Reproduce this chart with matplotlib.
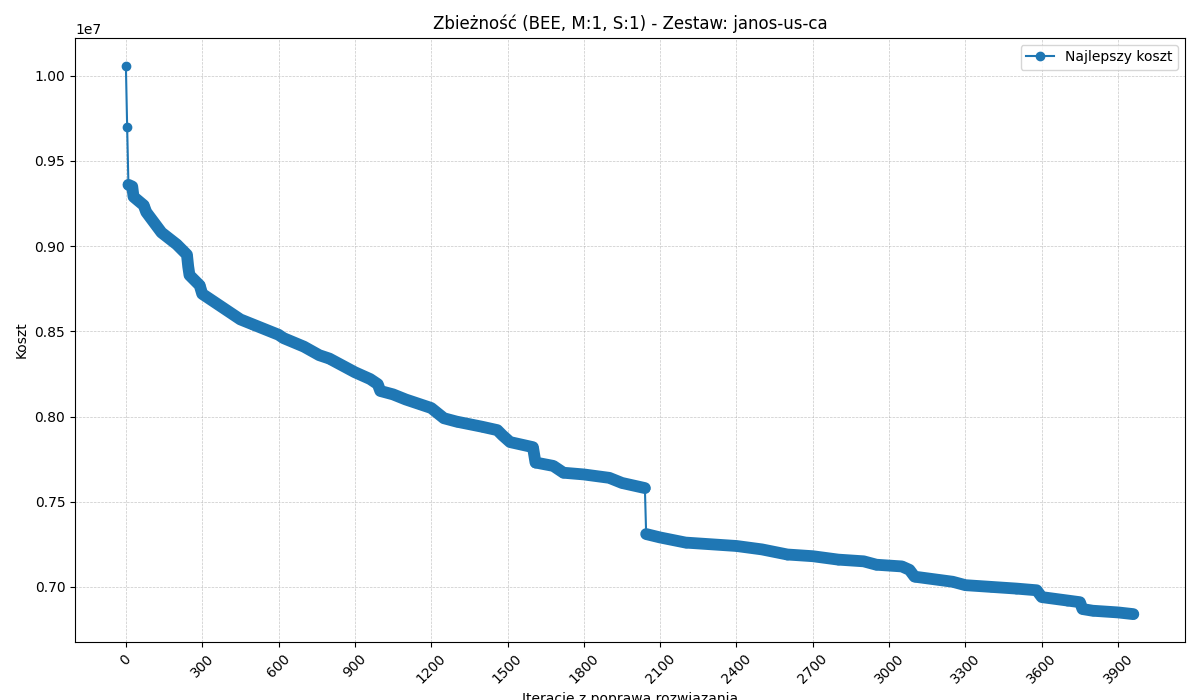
import matplotlib
matplotlib.use("Agg")
import matplotlib.pyplot as plt
import numpy as np

# breakpoints of the best-cost curve (iteration, cost)
iters = [0, 5, 10, 25, 30, 70, 80, 120, 140, 200, 240, 245, 250, 290, 300, 350, 400,
         450, 500, 600, 620, 700, 760, 800, 900, 960, 990, 1000, 1050, 1100, 1200,
         1250, 1300, 1400, 1460, 1480, 1510, 1600, 1610, 1680, 1720, 1800, 1900, 1950,
         2040, 2045, 2100, 2200, 2300, 2400, 2500, 2600, 2700, 2800, 2900, 2950, 3050,
         3080, 3100, 3150, 3250, 3300, 3400, 3500, 3580, 3600, 3700, 3750, 3760, 3800,
         3900, 3960]
cost = [1.006, 0.970, 0.936, 0.935, 0.929, 0.924, 0.920, 0.912, 0.908, 0.901, 0.895,
        0.888, 0.883, 0.877, 0.872, 0.867, 0.862, 0.857, 0.854, 0.848, 0.846, 0.841,
        0.836, 0.834, 0.826, 0.822, 0.819, 0.815, 0.813, 0.810, 0.805, 0.799, 0.797,
        0.794, 0.792, 0.789, 0.785, 0.782, 0.773, 0.771, 0.767, 0.766, 0.764, 0.761,
        0.758, 0.731, 0.729, 0.726, 0.725, 0.724, 0.722, 0.719, 0.718, 0.716, 0.715,
        0.713, 0.712, 0.710, 0.706, 0.705, 0.703, 0.701, 0.700, 0.699, 0.698, 0.694,
        0.692, 0.691, 0.687, 0.686, 0.685, 0.684]

x = np.array(iters, dtype=float)
y = np.array(cost) * 1e7

# thick band mimicking the dense markers, broken at big jumps
bx, by = [], []
for i in range(len(x)):
    if i > 0 and y[i - 1] - y[i] > 0.02e7:
        bx.append(np.nan)
        by.append(np.nan)
    bx.append(x[i])
    by.append(y[i])

fig = plt.figure(figsize=(12, 7), dpi=100)
ax = fig.add_axes([0.0625, 0.083, 0.925, 0.863])
ax.plot(x, y, color='#1f77b4', marker='o', label='Najlepszy koszt')
ax.plot(bx, by, color='#1f77b4', lw=8.5, solid_capstyle='round', solid_joinstyle='round')

ax.set_xlim(-200, 4163)
ax.set_ylim(0.6677e7, 1.0223e7)
ax.set_xticks(np.arange(0, 4000, 300))
plt.setp(ax.get_xticklabels(), rotation=45)
ax.grid(True, linestyle='--', linewidth=0.5, alpha=0.7)
ax.set_title('Zbieżność (BEE, M:1, S:1) - Zestaw: janos-us-ca')
ax.set_xlabel('Iteracje z poprawą rozwiązania')
ax.set_ylabel('Koszt')
ax.legend(loc='upper right')
fig.savefig('out.png')
